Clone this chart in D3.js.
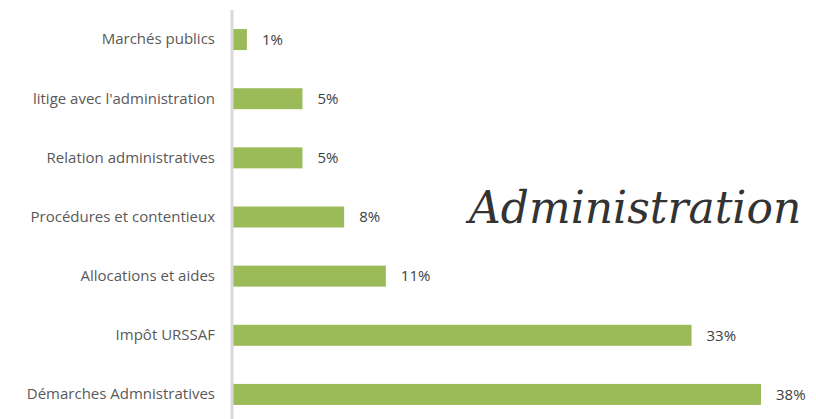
<!DOCTYPE html>
<html>
<head>
<meta charset="utf-8">
<script src="https://cdn.jsdelivr.net/npm/d3@7"></script>
<style>
  body { margin: 0; background: #fff; }
  svg { display: block; }
</style>
</head>
<body>
<svg width="816" height="419"></svg>
<script>
var categories = [
  "Marchés publics",
  "litige avec l'administration",
  "Relation administratives",
  "Procédures et contentieux",
  "Allocations et aides",
  "Impôt URSSAF",
  "Démarches Admnistratives"
];
var values = [1, 5, 5, 8, 11, 33, 38];
var title = "Administration";

var svg = d3.select("svg"),
    width = +svg.attr("width"),
    height = +svg.attr("height");

// horizontal scale for the bars
var x = d3.scaleLinear()
    .domain([0, 38])
    .range([233, 761]);

// one band per category
var y = d3.scaleBand()
    .domain(categories)
    .range([10, 424])
    .paddingInner(0.645)
    .paddingOuter(0.3225);

// bars
svg.append("g")
    .attr("class", "bars")
  .selectAll("rect")
  .data(values)
  .enter().append("rect")
    .attr("x", x(0))
    .attr("y", function(d, i) { return y(categories[i]); })
    .attr("width", function(d) { return x(d) - x(0); })
    .attr("height", y.bandwidth())
    .attr("fill", "#9bbb59");

// value labels
svg.append("g")
    .attr("class", "values")
  .selectAll("text")
  .data(values)
  .enter().append("text")
    .attr("x", function(d) { return x(d) + 15; })
    .attr("y", function(d, i) { return y(categories[i]) + y.bandwidth() / 2; })
    .attr("dy", "0.35em")
    .attr("font-family", "'Open Sans', sans-serif")
    .attr("font-size", 15)
    .attr("fill", "#404040")
    .text(function(d) { return d + "%"; });

// category axis, labels only
var axis = svg.append("g")
    .attr("transform", "translate(" + (x(0) - 1) + ",0)")
    .call(d3.axisLeft(y).tickSize(0).tickPadding(17));

axis.select(".domain").remove();
axis.selectAll("text")
    .attr("font-family", "'Open Sans', sans-serif")
    .attr("font-size", 15)
    .attr("fill", "#595959");

// vertical axis line
svg.append("line")
    .attr("x1", x(0) - 1)
    .attr("x2", x(0) - 1)
    .attr("y1", 10)
    .attr("y2", height)
    .attr("stroke", "#d9d9d9")
    .attr("stroke-width", 3);

// decorative title
svg.append("text")
    .attr("x", 469)
    .attr("y", 223)
    .attr("font-family", "'DejaVu Serif', serif")
    .attr("font-style", "italic")
    .attr("font-size", 44)
    .attr("fill", "#333")
    .text(title);
</script>
</body>
</html>
